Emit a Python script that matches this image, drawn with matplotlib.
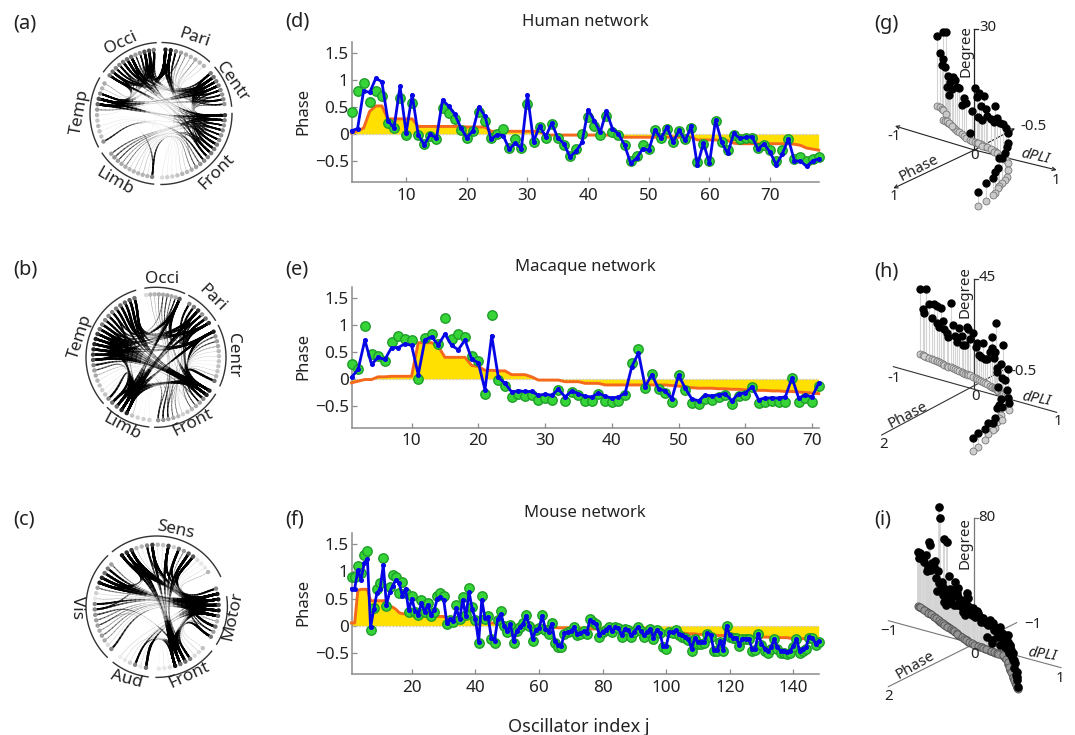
import numpy as np
import matplotlib
matplotlib.use("Agg")
import matplotlib.pyplot as plt
from matplotlib.collections import LineCollection

plt.rcParams['font.family'] = ['Noto Sans', 'DejaVu Sans']

W, H = 1075, 735

# ---------- phase curves ----------
human_green = [.40,.80,.95,.60,.80,.70,.20,.12,.67,-.02,.58,-.02,-.18,-.03,-.09,.48,.38,.28,.07,-.07,.05,.40,.25,-.08,0,.09,-.25,-.10,-.25,.55,-.14,.13,-.07,.18,-.08,-.20,-.40,-.27,0,.32,.15,-.02,.34,.03,-.02,-.20,-.50,-.40,-.20,-.27,.07,-.08,.10,-.14,.05,-.09,.12,-.52,-.18,-.50,.24,-.15,-.30,-.01,-.10,-.08,-.07,-.26,-.20,-.29,-.50,-.30,-.10,-.47,-.43,-.50,-.47,-.42]
human_blue = [.06,.10,.80,.77,1.03,.97,.25,.11,.88,.02,.73,-.02,-.20,0,-.08,.63,.52,.37,.12,-.07,.06,.50,.33,-.10,-.01,-.03,-.28,-.17,-.27,.73,-.14,.15,-.05,.20,-.07,-.18,-.42,-.32,-.15,.45,.25,.03,.42,.10,0,-.20,-.54,-.45,-.27,-.30,.08,-.08,.13,-.15,.07,-.12,.14,-.58,-.17,-.54,.26,-.15,-.36,.01,-.08,-.06,-.05,-.28,-.18,-.34,-.57,-.37,-.09,-.50,-.50,-.60,-.50,-.46]
human_orange = [.02,.06,.11,.42,.52,.52,.28,.28,.28,.28,.28,.14,.14,.14,.14,.14,.14,.14,.14,.13,.13,.13,.13,.05,.05,.05,.05,.05,.05,.05,.05,.05,-.02,-.02,-.02,-.02,-.02,-.02,-.02,-.02,-.02,-.02,-.02,-.02,-.02,-.06,-.06,-.06,-.06,-.06,-.06,-.06,-.06,-.06,-.06,-.06,-.06,-.11,-.11,-.11,-.11,-.12,-.12,-.17,-.18,-.18,-.18,-.18,-.18,-.18,-.18,-.18,-.18,-.19,-.21,-.26,-.28,-.30]

macaque_green = [.28,.18,.97,.47,.42,.33,.69,.79,.73,.72,0,.75,.83,.65,1.12,.73,.83,.77,.42,.33,-.27,1.18,-.02,-.12,-.33,-.28,-.32,-.30,-.38,-.35,-.38,-.20,-.40,-.24,-.30,-.40,-.40,-.27,-.40,-.43,-.40,-.30,.29,.56,-.17,.10,-.19,-.25,-.43,.07,-.20,-.45,-.47,-.36,-.38,-.33,-.30,-.47,-.32,-.30,-.15,-.45,-.42,-.41,-.42,-.42,.02,-.42,-.35,-.42,-.12]
macaque_blue = [.03,.18,.72,.27,.40,.36,.58,.58,.65,.62,.08,.72,.78,.63,.83,.62,.54,.72,.37,.30,-.20,.80,.03,-.08,-.24,-.22,-.23,-.23,-.30,-.28,-.30,-.19,-.33,-.22,-.27,-.32,-.33,-.26,-.32,-.35,-.33,-.26,.23,.48,-.14,.08,-.18,-.22,-.36,.07,-.17,-.37,-.40,-.30,-.31,-.29,-.27,-.40,-.27,-.26,-.14,-.38,-.35,-.35,-.35,-.33,.02,-.35,-.30,-.33,-.08]
macaque_orange = [-.07,-.04,-.01,-.01,.04,.04,.05,.05,.05,.05,.67,.67,.67,.60,.40,.40,.40,.40,.25,.23,.16,.16,.15,.15,.08,.08,.08,.04,-.02,-.02,-.02,-.02,-.05,-.05,-.05,-.08,-.08,-.08,-.11,-.11,-.11,-.11,-.11,-.11,-.11,-.11,-.11,-.11,-.12,-.13,-.15,-.16,-.17,-.17,-.17,-.18,-.18,-.19,-.19,-.20,-.20,-.21,-.21,-.22,-.22,-.23,-.23,-.24,-.25,-.26,-.27]

mouse_green = [.90,.90,1.10,.97,1.30,1.38,-.08,.33,.68,.78,1.25,.37,.72,.93,.90,.60,.80,.60,.25,.55,.25,.20,.48,.25,.42,.18,.25,.55,.60,.55,.03,.10,.07,.38,.12,.52,.20,.70,.35,.10,-.32,.55,.12,.17,-.25,-.32,.10,.27,0,-.12,.02,-.32,-.10,-.02,.05,.20,0,-.28,-.08,-.05,.20,-.07,-.15,.05,-.32,-.40,-.40,-.15,-.12,-.10,-.02,-.17,-.15,-.10,-.15,.13,.07,.03,-.20,-.12,-.08,-.02,-.12,-.02,-.05,-.20,-.06,-.07,-.20,-.12,-.02,-.10,-.20,-.12,-.06,-.25,-.08,-.14,-.40,-.42,-.12,-.13,-.08,-.17,-.20,-.22,-.27,-.47,-.25,-.33,-.33,-.32,-.15,-.20,-.47,-.47,-.30,-.47,0,-.20,-.22,-.23,-.37,-.25,-.25,-.25,-.46,-.44,-.15,-.35,-.47,-.50,-.42,-.25,-.42,-.50,-.50,-.52,-.50,-.40,-.25,-.50,-.47,-.42,-.22,-.22,-.35,-.30]
mouse_blue = [.68,.68,1.02,.85,1.15,1.23,-.03,.30,.60,.68,1.12,.38,.62,.74,.84,.78,.55,.68,.28,.50,.27,.20,.42,.25,.38,.20,.28,.50,.53,.48,.05,.12,.08,.32,.12,.47,.18,.62,.30,.12,-.30,.48,.14,.16,-.22,-.28,.12,.22,0,-.10,.03,-.28,-.10,-.02,.04,.18,0,-.25,-.07,-.05,.18,-.06,-.12,.04,-.28,-.36,-.37,-.14,-.12,-.10,-.03,-.15,-.14,-.10,-.14,.10,.06,.03,-.17,-.11,-.07,-.02,-.10,-.02,-.05,-.18,-.06,-.07,-.18,-.11,-.03,-.09,-.18,-.11,-.06,-.22,-.08,-.13,-.37,-.38,-.12,-.12,-.08,-.15,-.18,-.20,-.25,-.42,-.23,-.30,-.30,-.30,-.13,-.17,-.45,-.45,-.28,-.44,0,-.18,-.22,-.22,-.35,-.24,-.24,-.24,-.42,-.42,-.15,-.33,-.42,-.47,-.40,-.25,-.40,-.46,-.46,-.48,-.46,-.38,-.24,-.46,-.42,-.40,-.20,-.22,-.33,-.28]
mouse_orange = [.05,.05,.65,.67,.67,.67,.46,.46,.46,.46,.46,.46,.36,.34,.30,.24,.22,.22,.22,.20,.20,.20,.18,.18,.18,.18,.17,.17,.17,.17,.14,.14,.14,.14,.14,.14,.14,.14,.13,.10,.08,.07,.06,.06,.05,.05,.04,.03,.02,.02,.01,.01,.01,0,0,0,0,0,-.01,-.01,-.01,-.01,-.02,-.02,-.03,-.04,-.04,-.04,-.04,-.04,-.04,-.05,-.05,-.05,-.05,-.06,-.06,-.06,-.06,-.07,-.07,-.07,-.08,-.08,-.08,-.08,-.09,-.09,-.09,-.10,-.10,-.10,-.10,-.11,-.11,-.11,-.12,-.12,-.12,-.12,-.13,-.13,-.13,-.14,-.14,-.14,-.15,-.15,-.15,-.16,-.16,-.16,-.17,-.17,-.17,-.18,-.18,-.18,-.19,-.19,-.19,-.19,-.20,-.20,-.20,-.20,-.20,-.21,-.21,-.21,-.21,-.21,-.22,-.22,-.22,-.22,-.22,-.22,-.23,-.23,-.23,-.23,-.24,-.24,-.25,-.25,-.26,-.26]

human_xticks = [10,20,30,40,50,60,70]
macaque_xticks = [10,20,30,40,50,60,70]
mouse_xticks = [20,40,60,80,100,120,140]
phase_yticks = [-0.5,0,0.5,1,1.5]
phase_yticklabels = ['\u22120.5','0','0.5','1','1.5']

# ---------- circular graphs: node shades, arcs, labels, links ----------
a_shades = [
 [.95,.95,.5,.4,.35,.3,.35,.3,.3],
 [.55,.6,.55,.55,.5,.45,.5,.45],
 [.8,.55,.45,.5,.45,.5,.55,.55,.55,.5,.5,.45,.4,.35,.3,.3,.25,.2,.2,.15],
 [.5,.3,.3,.3,.3,.3,.35,.35,.4,.45,.4],
 [.45,.25,.25,.3,.25,.3,.4,.65,.7,.5,.3,.35],
 [.55,.6,.5,.5,.55,.6,.6,.4,.45,.7,.75,.55]]
a_node_span = [(4,42),(51,81.5),(91.5,179),(188,231),(244,298),(306.6,353.5)]
a_arc_span = [(1,43),(49.5,84),(90,180),(186,236),(242,300),(306,356)]
a_hubs = [(4,.5),(58,.52),(108,.52),(215,.35),(278,.58),(325,.55)]
a_labels = [('Pari',195,38,-18),('Centr',232,82,-55),('Front',217,172,45),('Limb',115,182,-30),('Temp',80,112,80),('Occi',121,43,25)]
a_links = [(0,12),(0,19),(0,26),(0,70),(0,69),(0,56),(1,10),(1,20),(1,22),(1,71),(1,68),(1,55),(2,23),(3,60),(4,15),(5,18),(6,13),(7,40),(8,12),
 (9,70),(9,20),(10,66),(10,22),(11,61),(11,19),(12,24),(12,57),(13,64),(13,21),(14,67),(14,18),(15,26),(15,56),(16,17),(16,62),
 (17,56),(17,43),(17,66),(17,10),(18,45),(18,63),(19,47),(19,12),(20,41),(20,56),(21,60),(21,13),(22,57),(22,11),(23,65),(23,9),(24,39),(24,14),(25,69),(25,10),(26,1),(26,60),(27,48),(28,50),(29,7),(30,37),(31,5),(32,44),(33,6),(34,4),(35,3),(36,2),
 (37,30),(38,29),(39,32),(40,31),(41,33),(42,21),(43,25),(44,27),(45,19),(46,18),(47,17),
 (48,21),(49,37),(50,36),(51,35),(52,34),(53,5),(54,12),(55,70),(55,71),(55,17),(55,10),(56,69),(56,18),(56,68),(56,11),(57,67),(57,12),(57,66),(58,3),(58,19),(59,60),
 (60,19),(60,55),(61,1),(61,56),(62,0),(62,10),(63,0),(63,57),(64,1),(64,11),(65,0),(65,17),(66,1),(66,13),(67,0),(67,14),(68,1),(68,20),(69,0),(69,12),(70,1),(70,16),(71,0),(71,15),(71,56)]

b_shades = [
 [.15,.3,.3,.35,.35,.4,.35,.35,.7],
 [.5,.55,.85,.45,.6,.85],
 [.95,.45,.4,.35,.3,.25,.25,.25,.25,.3,.6],
 [.9,.9,.5,.4,.35,.3,.25,.2,.3,.35,.4,.45,.45],
 [.2,.2,.2,.25,.9,.9,.6,.6],
 [.5,.25,.2,.25,.3,.35,.4,.5,.7,.8,.9,.9,.95,.8,.6,.55,.5,.5,.5,.55,.6,.65,.7,.6]]
b_node_span = [(-9,22),(32,57),(66,112),(122,178),(186,224),(229,340)]
b_arc_span = [(-9,24),(28,58),(63,114),(122,181),(186,224),(229,343)]
b_hubs = [(5,.4),(41,.58),(90,.45),(128,.62),(217,.55),(283,.55)]
b_labels = [('Occi',162,279,0),('Pari',212,298,-45),('Centr',233,355,-90),('Temp',80,337,72),('Limb',122,427,-28),('Front',193,423,27)]
b_links = [(55,26),(55,27),(55,12),(56,26),(56,14),(56,27),(57,27),(57,15),(57,44),(58,26),(58,11),(58,43),(59,12),(59,27),(59,15),(60,45),(60,14),(60,26),(61,27),(61,8),(62,26),(62,12),(63,15),(63,28),(64,27),(64,8),(65,14),(65,43),(66,26),(66,7),(67,12),(67,15),(68,27),(68,4),(69,14),(69,26),(69,12),(70,15),(70,26),(70,11),
 (47,44),(48,38),(49,36),(50,33),(51,34),(52,31),(53,43),(54,29),
 (26,12),(26,15),(27,14),(27,11),(26,44),(27,43),(26,8),(27,7),(28,15),(29,12),(30,5),(31,17),(32,2),(33,3),(34,13),(35,1),(36,9),(37,6),(38,4),
 (11,44),(11,43),(12,43),(14,44),(14,28),(11,27),(9,30),(10,31),(13,29),
 (15,43),(15,44),(15,8),(16,33),(17,31),(18,29),(19,30),(20,28),(21,36),(22,35),(23,28),(24,27),(25,26),
 (0,33),(1,36),(2,35),(3,34),(4,31),(5,30),(6,37),(7,44),(8,43),(8,45),
 (43,14),(43,12),(43,8),(44,15),(44,11),(44,7),(45,26),(45,27),(45,12),(46,26),(42,58),(41,33),(40,31),(39,34),(43,57),(44,59),(46,60),(45,61)]

c_shades = [
 [.98,.85,.8,.3,.3,.5,.8,.3,.25,.8,.2,.6,.4,.7,.7,.15,.1,.1,.3],
 [.5,.97,.97,.7,.97,.6,.3,.6,.4,.55],
 [.25,.15,.15,.55,.6,.6,.97,.15,.1,.1],
 [.6,.1,.5,.2,.1,.08],
 [.5,.15,.35,.4,.35,.4,.4,.45,.5,.5,.1,.2,.4,.95,.9,.6,.55,.4]]
c_node_span = [(-34,56),(73,119),(132,178),(190,216),(227,313)]
c_arc_span = [(-38.7,64.6),(82,122),(129,180.5),(187,218),(224.4,316)]
c_hubs = [(8,.48),(88,.6),(156,.58),(200,.45),(300,.55)]
c_labels = [('Sens',175,530,-12),('Motor',233,616,78),('Front',189,675,25),('Aud',127,679,-15),('Vis',77,608,-90)]
c_links = [(0,20),(0,21),(0,35),(0,58),(1,23),(1,21),(1,34),(2,20),(2,35),(2,33),(3,22),(4,36),(5,24),(5,33),(6,21),(6,34),(6,23),(7,30),(8,32),(9,21),(9,35),(9,22),(10,37),(11,20),(11,33),(12,25),(13,21),(13,34),(13,23),(14,24),(14,35),(14,20),(15,26),(16,27),(17,28),(18,22),
 (19,0),(19,2),(20,1),(20,6),(20,58),(21,13),(21,9),(21,59),(21,53),(22,14),(22,1),(22,54),(23,0),(23,6),(23,35),(24,2),(24,13),(24,55),(24,34),(25,9),(25,35),(26,11),(27,35),(27,6),(27,14),(28,34),(28,33),
 (29,21),(30,24),(31,23),(32,22),(33,24),(33,1),(33,0),(34,21),(34,13),(34,23),(35,20),(35,6),(35,24),(35,9),(35,2),(36,55),(37,50),(38,44),
 (39,35),(39,24),(40,21),(41,22),(41,34),(42,23),(43,33),(44,20),
 (45,24),(46,22),(47,21),(48,20),(49,24),(50,23),(51,21),(52,33),(53,2),(54,21),(55,20),(56,23),(57,22),(58,0),(58,1),(58,21),(58,24),(59,2),(59,1),(59,22),(59,20),(60,21),(60,24),(61,22),(62,23)]

# ---------- oblique degree plots: read positions ----------
g_x = [232,240,245,250,258,250,255,263,270,278,285,290,262,268,275,298,305,312,318,330,335,345,350,358,363,372,378,405,355,365,380,392,403,412,420,430,438,445,445,440,435,425,418,413,405,400,378,355]
g_floor = [318,322,328,330,342,360,362,368,372,380,388,393,363,370,378,397,403,408,415,420,422,425,428,432,433,438,440,452,430,437,442,448,455,460,468,472,480,490,510,530,540,550,558,565,578,585,603,618]
g_peak = [108,160,195,95,95,178,200,228,245,232,240,262,262,285,268,265,315,295,310,400,332,263,290,280,318,288,328,317,350,360,347,358,365,355,370,372,385,400,430,440,460,475,475,505,515,535,548,575]

h_x = [180,190,198,193,207,215,222,230,232,236,243,250,253,262,265,272,278,285,290,298,305,310,315,322,325,330,340,347,350,358,362,368,375,382,390,395,397,402,405,407,410,412,415,422,425,428,435,440,445,443,447,422,418,410,425,405,400,385,375,355,340]
h_floor = [312,316,320,318,324,327,330,333,334,336,340,343,344,348,350,352,355,358,360,364,367,369,371,373,374,376,381,385,386,390,392,396,399,403,407,410,411,413,415,416,417,420,423,430,432,433,435,437,440,467,480,495,505,515,510,535,540,553,570,590,603]
h_peak = [118,178,118,188,163,205,163,167,220,232,175,212,238,250,262,158,225,258,275,233,257,285,285,230,238,268,250,290,280,315,322,280,328,328,305,262,295,325,305,220,355,367,410,342,385,285,390,420,357,445,460,447,465,475,470,505,520,520,537,550,563]

i_x = [175,178,183,188,198,200,205,207,210,215,225,232,235,238,240,245,250,252,255,258,258,260,263,265,268,270,275,285,285,295,295,300,300,310,315,320,322,325,330,340,345,350,360,365,375,380,385,390,395,395,400,405,412,420,420,425,430,435,435,440,445,445,450,450,455,460,462,465,470,472,475,
       180,192,203,212,222,228,236,243,248,253,262,272,278,282,290,292,305,312,318,328,335,342,355,362,370,378,392,402,410,415,428,438,443,448,452,458,462,468,470]
i_floor = [348,350,353,357,364,366,369,370,372,375,382,388,391,393,395,398,402,403,405,407,407,408,410,412,414,415,419,425,425,434,434,438,438,445,448,451,453,455,458,463,465,467,470,472,476,478,480,482,484,484,486,488,490,492,492,493,497,503,503,510,522,522,540,540,552,565,570,578,590,595,598,
           352,360,368,373,380,384,391,397,400,404,410,417,421,423,429,431,441,446,450,457,460,464,469,471,474,477,483,487,490,491,495,507,515,530,545,560,570,585,590]
i_peak = [185,205,200,205,195,243,232,155,165,220,212,302,243,52,85,275,290,148,320,300,345,155,340,320,258,298,320,275,300,295,320,335,340,365,375,345,310,325,365,355,380,362,380,390,395,440,405,390,450,460,400,415,425,410,465,430,450,435,470,460,435,480,465,470,500,490,535,520,545,570,590,
          190,215,240,240,230,265,280,300,315,335,305,340,300,345,310,345,350,330,360,350,375,370,370,395,385,400,405,420,440,415,445,450,455,490,480,510,510,555,560]

fig = plt.figure(figsize=(W/100, H/100), dpi=100, facecolor='white')
INK = '#222222'

def fx(px): return px / W
def fy(py): return 1 - py / H

def put(px, py, s, size=11.7, rot=0, **kw):
    fig.text(fx(px), fy(py), s, fontsize=size, rotation=rot, ha='center', va='center',
             color=INK, rotation_mode='anchor', **kw)

for s, px, py in [('(a)',25,23),('(b)',25,270),('(c)',24,520),('(d)',297,22),('(e)',297,270),('(f)',295,520),
                  ('(g)',886,24),('(h)',886,271),('(i)',883,519)]:
    put(px, py, s, size=14.4)
for s, py in [('Human network',21.7),('Macaque network',266.7),('Mouse network',513)]:
    put(585, py, s, size=12)
put(578.7, 726.7, 'Oscillator index j', size=13)

def phase_panel(top, bottom, zero, unit, xmax, xticks, green, blue, orange, ylab_y):
    ax = fig.add_axes([fx(351.5), fy(bottom), (818.7-351.5)/W, (bottom-top)/H])
    x = np.arange(1, len(green)+1)
    ax.set_xlim(1, xmax)
    ax.set_ylim((zero-bottom)/unit, (zero-top)/unit)
    ax.fill_between(x, orange, 0, color='#FFE000', lw=0, zorder=1)
    ax.axhline(0, color='#c8c8c8', lw=1, ls=(0,(1.2,1.2)), zorder=2)
    ax.plot(x, orange, color='#F4691C', lw=2.1, zorder=3, clip_on=False)
    ax.plot(x, green, ls='none', marker='o', ms=6.8, mfc='#37D437', mec='#1E9E2A', mew=1.0, zorder=4, clip_on=False)
    ax.plot(x, blue, color='#0505E6', lw=2.0, marker='o', ms=2.6, zorder=5, clip_on=False)
    for side in ('top','right'):
        ax.spines[side].set_visible(False)
    for side in ('left','bottom'):
        ax.spines[side].set_color('#8c8c8c')
        ax.spines[side].set_linewidth(1.1)
    ax.set_xticks(xticks)
    ax.set_yticks(phase_yticks, phase_yticklabels)
    ax.tick_params(direction='in', length=3.5, width=0.9, color='#8c8c8c', labelsize=12.3, labelcolor=INK)
    ax.tick_params(axis='x', pad=4)
    ax.tick_params(axis='y', pad=2)
    put(303, ylab_y, 'Phase', size=12, rot=90)

phase_panel(41.7,182.3,134,54,78,human_xticks,human_green,human_blue,human_orange,111)
phase_panel(287.3,427.7,379,54.2,71,macaque_xticks,macaque_green,macaque_blue,macaque_orange,356.7)
phase_panel(533.3,674.3,625.7,54.3,148,mouse_xticks,mouse_green,mouse_blue,mouse_orange,602.7)

def circ(bearing, r=1.0):
    t = np.radians(bearing)
    return np.array([r*np.sin(t), r*np.cos(t)])

def chord_panel(cx, cy, r_node, r_arc, shades, node_span, arc_span, hubs, labels, links, mid):
    half = 82
    ax = fig.add_axes([fx(cx-half), fy(cy+half), 2*half/W, 2*half/H])
    lim = half/r_node
    ax.set_xlim(-lim, lim); ax.set_ylim(-lim, lim); ax.axis('off')
    pos, val, grp = [], [], []
    for g, (sh, sp) in enumerate(zip(shades, node_span)):
        for b, v in zip(np.linspace(sp[0], sp[1], len(sh)), sh):
            pos.append(circ(b)); val.append(v); grp.append(g)
    pos = np.array(pos); val = np.array(val)
    hub = [circ(b, r) for b, r in hubs]
    weight = np.clip((val-.25)/.35, .03, 1)**1.3
    segs, cols, lws = [], [], []
    ts = np.linspace(0, 1, 31)
    bern = np.array([(1-ts)**5, 5*ts*(1-ts)**4, 10*ts**2*(1-ts)**3, 10*ts**3*(1-ts)**2, 5*ts**4*(1-ts), ts**5])
    for i, j in links:
        p0, p5 = pos[i], pos[j]
        ctrl = np.array([p0, .55*p0, hub[grp[i]], hub[grp[j]], .55*p5, p5])
        c = bern.T @ ctrl
        tm = .5*(ts[:-1]+ts[1:])
        a = np.clip(1-tm/.42, 0, 1)
        d = np.clip((tm-.58)/.42, 0, 1)
        w = weight[i]*a**.6 + weight[j]*d**.6 + mid*(weight[i]+weight[j])
        for k in range(len(tm)):
            segs.append(c[k:k+2])
            cols.append((0, 0, 0, min(1, .05+1.1*w[k])))
            lws.append(.2+1.5*min(1, w[k]))
    ax.add_collection(LineCollection(segs, colors=cols, linewidths=lws, capstyle='round', zorder=2))
    ax.scatter(pos[:,0], pos[:,1], s=10, c=[str(1-.95*v) for v in val], lw=0, zorder=3)
    for sp in arc_span:
        th = np.linspace(sp[0], sp[1], 80)
        ax.plot(r_arc/r_node*np.sin(np.radians(th)), r_arc/r_node*np.cos(np.radians(th)),
                color='#333333', lw=1.0, zorder=3)
    for s, px, py, rot in labels:
        put(px, py, s, size=12.3, rot=rot)

chord_panel(161,113.5,64,71,a_shades,a_node_span,a_arc_span,a_hubs,a_labels,a_links,.06)
chord_panel(156,357.3,63,70,b_shades,b_node_span,b_arc_span,b_hubs,b_labels,b_links,.16)
chord_panel(156.7,606.7,62,70.7,c_shades,c_node_span,c_arc_span,c_hubs,c_labels,c_links,.1)

def degree_panel(px0, py0, xs, floor, peak, axes_lines, top_y, origin, texts, arrows, axis_col, base_face, base_edge, stem_lw, ms):
    w, h = 215, 230
    ax = fig.add_axes([fx(px0), fy(py0+h), w/W, h/H])
    ax.set_xlim(0, w*3); ax.set_ylim(h*3, 0); ax.axis('off')
    for (a, b) in axes_lines:
        if arrows:
            ax.annotate('', xy=b, xytext=a, arrowprops=dict(arrowstyle='->', lw=.8, color=axis_col, mutation_scale=6, shrinkA=0, shrinkB=0), zorder=1)
        else:
            ax.plot([a[0], b[0]], [a[1], b[1]], color=axis_col, lw=.8, zorder=1)
    ax.plot([origin[0], origin[0]], [origin[1], top_y], color=axis_col, lw=.9, zorder=1)
    ax.plot([origin[0], origin[0]+12], [top_y, top_y], color=axis_col, lw=.9, zorder=1)
    ax.vlines(xs, peak, floor, color='#d4d4d4', lw=stem_lw, zorder=2)
    ax.plot(xs, floor, ls='none', marker='o', ms=ms, mfc=base_face, mec=base_edge, mew=.6, zorder=3)
    ax.plot(xs, peak, ls='none', marker='o', ms=ms, color='black', zorder=4)
    for s, x, y, rot, style in texts:
        ax.text(x, y, s, fontsize=10.8, rotation=rot, ha='center', va='center', color=INK, style=style, rotation_mode='anchor', zorder=5)

degree_panel(860,0,g_x,g_floor,g_peak,[((343,450),(590,510)),((343,450),(105,378)),((343,450),(100,565)),((343,450),(465,385))],88,(343,450),
  [('-1',103,410,0,'normal'),('1',103,590,0,'normal'),('0',343,467,0,'normal'),('1',587,540,0,'normal'),('-0.5',520,378,0,'normal'),('30',383,83,0,'normal'),
   ('Degree',318,152,90,'normal'),('Phase',178,505,27,'normal'),('dPLI',525,470,-12,'italic')],True,'#222222','#c9c9c9','#777777',.8,5)
degree_panel(860,250,h_x,h_floor,h_peak,[((100,350),(590,487)),((65,555),(440,355))],88,(343,417),
  [('-1',103,385,0,'normal'),('2',70,585,0,'normal'),('0',347,440,0,'normal'),('1',593,515,0,'normal'),('-0.5',490,365,0,'normal'),('45',383,83,0,'normal'),
   ('Degree',315,125,90,'normal'),('Phase',145,495,27,'normal'),('dPLI',530,448,-10,'italic')],False,'#333333','#cfcfcf','#777777',.8,5)
degree_panel(860,490,i_x,i_floor,i_peak,[((85,392),(603,533)),((85,590),(470,398))],85,(343,465),
  [('\u22121',88,425,0,'normal'),('2',85,618,0,'normal'),('0',343,495,0,'normal'),('1',600,565,0,'normal'),('\u22121',520,403,0,'normal'),('80',380,83,0,'normal'),
   ('Degree',315,160,90,'normal'),('Phase',165,525,30,'normal'),('dPLI',547,495,-8,'italic')],False,'#777777','#959595','#555555',1.3,5.2)

fig.savefig('out.png', dpi=100)
